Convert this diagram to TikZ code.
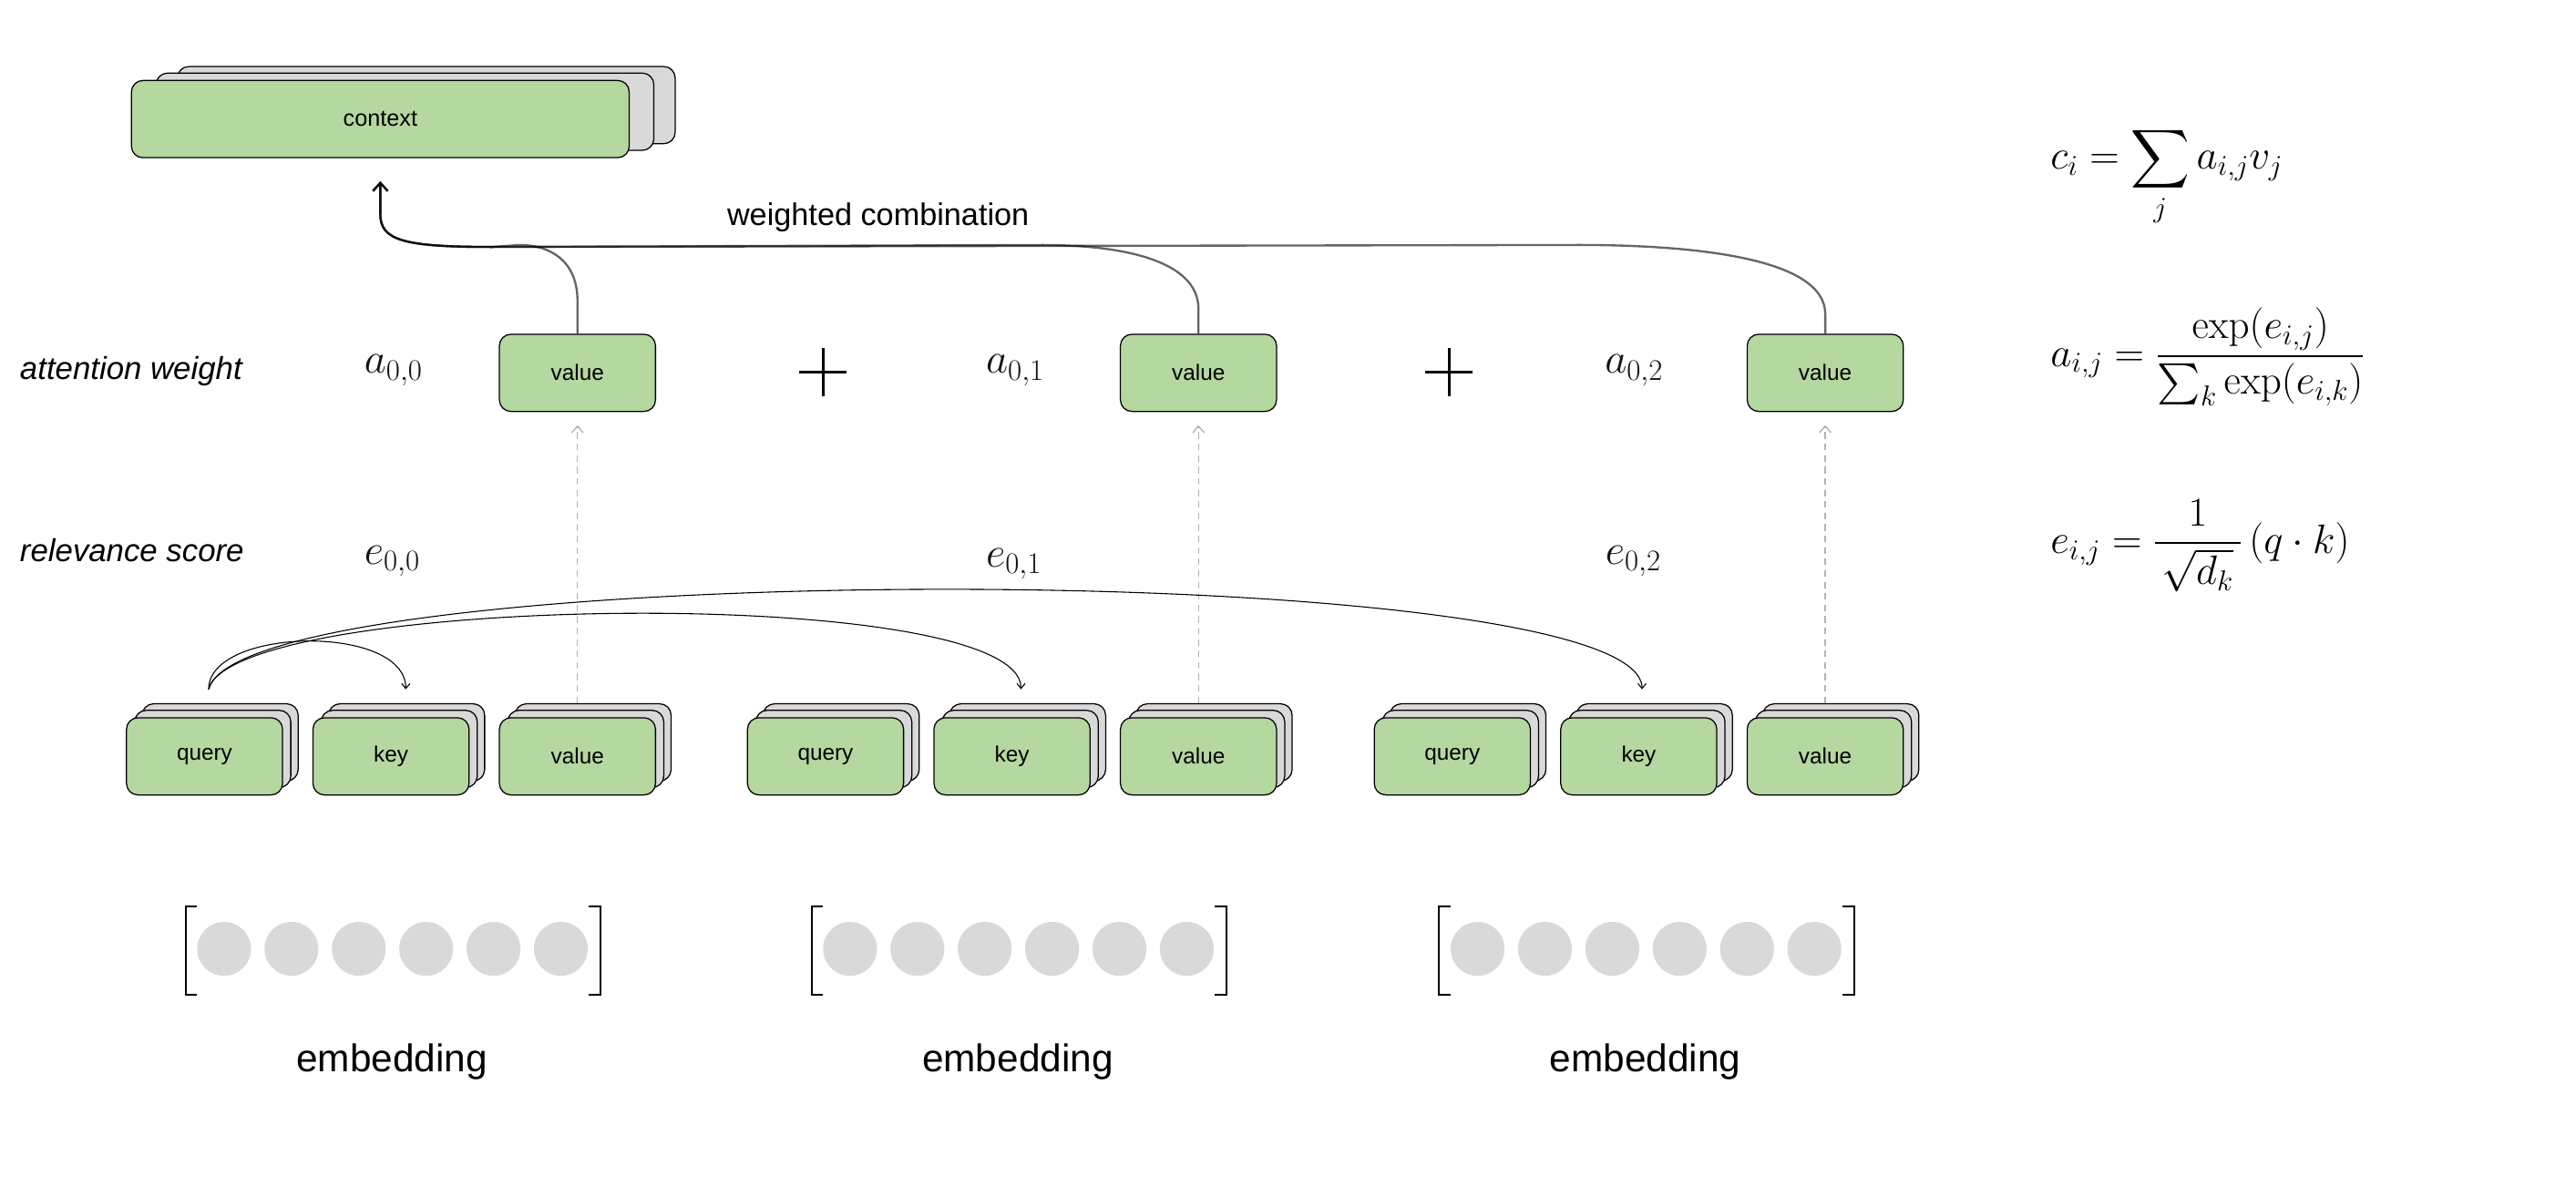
\RequirePackage{fix-cm}
\documentclass[tikz,border=0pt]{standalone}
\usepackage{amsmath}
\usepackage[no-math]{fontspec}
\setmainfont{Liberation Sans}
\usetikzlibrary{arrows.meta,calc}
\definecolor{boxgreen}{HTML}{B5D7A0}
\definecolor{laygray}{HTML}{D9D9D9}
\newcommand{\stk}[4]{%
  \node[lay] (#1L2) at (#2+9.5,#3-8.5) {};
  \node[lay] (#1L1) at (#2+5,#3-4.5) {};
  \node[box] (#1) at (#2,#3) {#4};}
\begin{document}
\begin{tikzpicture}[x=1pt,y=-1pt,
  box/.style={draw=black, line width=0.7pt, fill=boxgreen, rounded corners=7pt,
    minimum width=95pt, minimum height=47pt, inner sep=0pt,
    font=\fontsize{13.5}{16}\selectfont},
  lay/.style={draw=black, line width=0.7pt, fill=laygray, rounded corners=7pt,
    minimum width=95pt, minimum height=47pt, inner sep=0pt},
  qk/.style={line width=0.6pt, -{Straight Barb[length=3pt,width=5pt]}},
  dasharr/.style={draw=black!30, line width=0.8pt, dash pattern=on 4pt off 3pt,
    -{Straight Barb[length=4pt,width=7pt]}},
  trunk/.style={draw=black, draw opacity=0.6, line width=1.3pt},
  plusl/.style={line width=1.5pt},
  emb/.style={circle, fill=laygray, minimum size=32.8pt, inner sep=0pt},
  brk/.style={line width=1.2pt},
  lbl/.style={font=\fontsize{19.3}{22}\selectfont\itshape, anchor=base west, inner sep=0pt},
  mlbl/.style={font=\fontsize{26}{30}\selectfont, anchor=base west, inner sep=0pt, text=black!92},
  formula/.style={anchor=base west, inner sep=0pt, font=\fontsize{25}{29}\selectfont},
  embt/.style={font=\fontsize{23.5}{28}\selectfont, anchor=base, inner sep=0pt}
]
\useasboundingbox (0,0) rectangle (1568,728.8);

% context stack
\node[lay, minimum width=303pt] (ctxL2) at (231.5+28,72.5-8.5) {};
\node[lay, minimum width=303pt] (ctxL1) at (231.5+15,72.5-4.5) {};
\node[box, minimum width=303pt, font=\fontsize{14}{17}\selectfont] (ctx) at (231.5,72.5) {context};

% bottom rows
\foreach \cc/\dx in {1/0,2/378,3/759.5}{
  \stk{q\cc}{124.5+\dx}{460.5}{query}
  \stk{k\cc}{238+\dx}{460.5}{key}
  \stk{vb\cc}{351.5+\dx}{460.5}{value}
  \node[box] (v\cc) at (351.5+\dx,227) {value};
  \draw[dasharr] (vb\cc.north |- vb\cc L2.north) -- ([yshift=-8pt]v\cc.south);
}

% labels
\node[lbl] (attw) at (12,231) {attention weight};
\node[lbl] (rels) at (12,342) {relevance score};
\node[mlbl] (a0) at (221.6,227.4) {$a_{0,0}$};
\node[mlbl] (a1) at (600,227.4) {$a_{0,1}$};
\node[mlbl] (a2) at (976.7,227.4) {$a_{0,2}$};
\node[mlbl] (e0) at (221.6,343.5) {$e_{0,0}$};
\node[mlbl] (e1) at (600,345.5) {$e_{0,1}$};
\node[mlbl] (e2) at (977,343.5) {$e_{0,2}$};

% plus signs
\foreach \px/\nm in {501/p1,882/p2}{
  \coordinate (\nm) at (\px,226.5);
  \draw[plusl] ($(\nm)+(-14.5,0)$) -- ($(\nm)+(14.5,0)$);
  \draw[plusl] ($(\nm)+(0,-14.5)$) -- ($(\nm)+(0,14.5)$);
}

% query -> key arcs
\coordinate (qs) at ($(q1.north)+(2.5,-17)$);
\coordinate (ke1) at ($(k1.north)+(9,-17)$);
\coordinate (ke2) at ($(k2.north)+(5.5,-17)$);
\coordinate (ke3) at ($(k3.north)+(2,-17)$);
\draw[qk] (qs) .. controls ($(qs)+(0,-38)$) and ($(ke1)+(0,-40)$) .. (ke1);
\draw[qk] (qs) .. controls ($(qs)+(15,-58)$) and ($(ke2)+(0,-65)$) .. (ke2);
\draw[qk] (qs) .. controls ($(qs)+(20,-80)$) and ($(ke3)+(0,-82)$) .. (ke3);

% weighted combination trunk
\coordinate (tip) at ($(ctx.south)+(0,14)$);
\coordinate (tr4) at ($(tip)+(0,20)$);
\coordinate (tr3) at ($(tip)+(0,36)$);
\coordinate (tr2) at ($(tip)+(14,40)$);
\coordinate (tr1) at ($(tip)+(68,40)$);
\foreach \cc/\bend/\vlen in {1/35/20,2/95/15,3/150/12}{
  \draw[trunk, -{Straight Barb[length=5pt,width=9pt]}]
    (v\cc.north) -- ($(v\cc.north)+(0,-\vlen)$)
    .. controls ($(v\cc.north)+(0,-45)$) and ($(v\cc.north)+(-0.5*\bend,-54)$)
    .. ($(v\cc.north)+(-\bend,-54)$) -- (tr1)
    .. controls (tr2) and (tr3) .. (tr4) -- (tip);
}
\node[font=\fontsize{19}{22}\selectfont, anchor=base, inner sep=0pt] (wc) at (534.5,137) {weighted combination};

% embeddings
\foreach \cc/\dx in {1/0,2/381,3/763}{
  \draw[brk] (113+7+\dx,552) -- (113+\dx,552) -- (113+\dx,605.5) -- (113+7+\dx,605.5);
  \draw[brk] (365.5-7+\dx,552) -- (365.5+\dx,552) -- (365.5+\dx,605.5) -- (365.5-7+\dx,605.5);
  \foreach \i in {0,...,5}{
    \node[emb] (c\cc\i) at (136.4+41*\i+\dx,577.7) {};
  }
  \node[embt] (emb\cc) at (238.5+\dx,652.5) {embedding};
}

% formulas
\node[formula] (f1) at (1248,103) {$\displaystyle c_i = \sum_j a_{i,j} v_j$};
\node[formula] (f2) at (1248,223) {$\displaystyle a_{i,j} = \frac{\exp(e_{i,j})}{\sum_k \exp(e_{i,k})}$};
\node[formula] (f3) at (1248,337) {$\displaystyle e_{i,j} = \frac{1}{\,\sqrt{d_k}\,}\,(q\cdot k)$};
\end{tikzpicture}
\end{document}
